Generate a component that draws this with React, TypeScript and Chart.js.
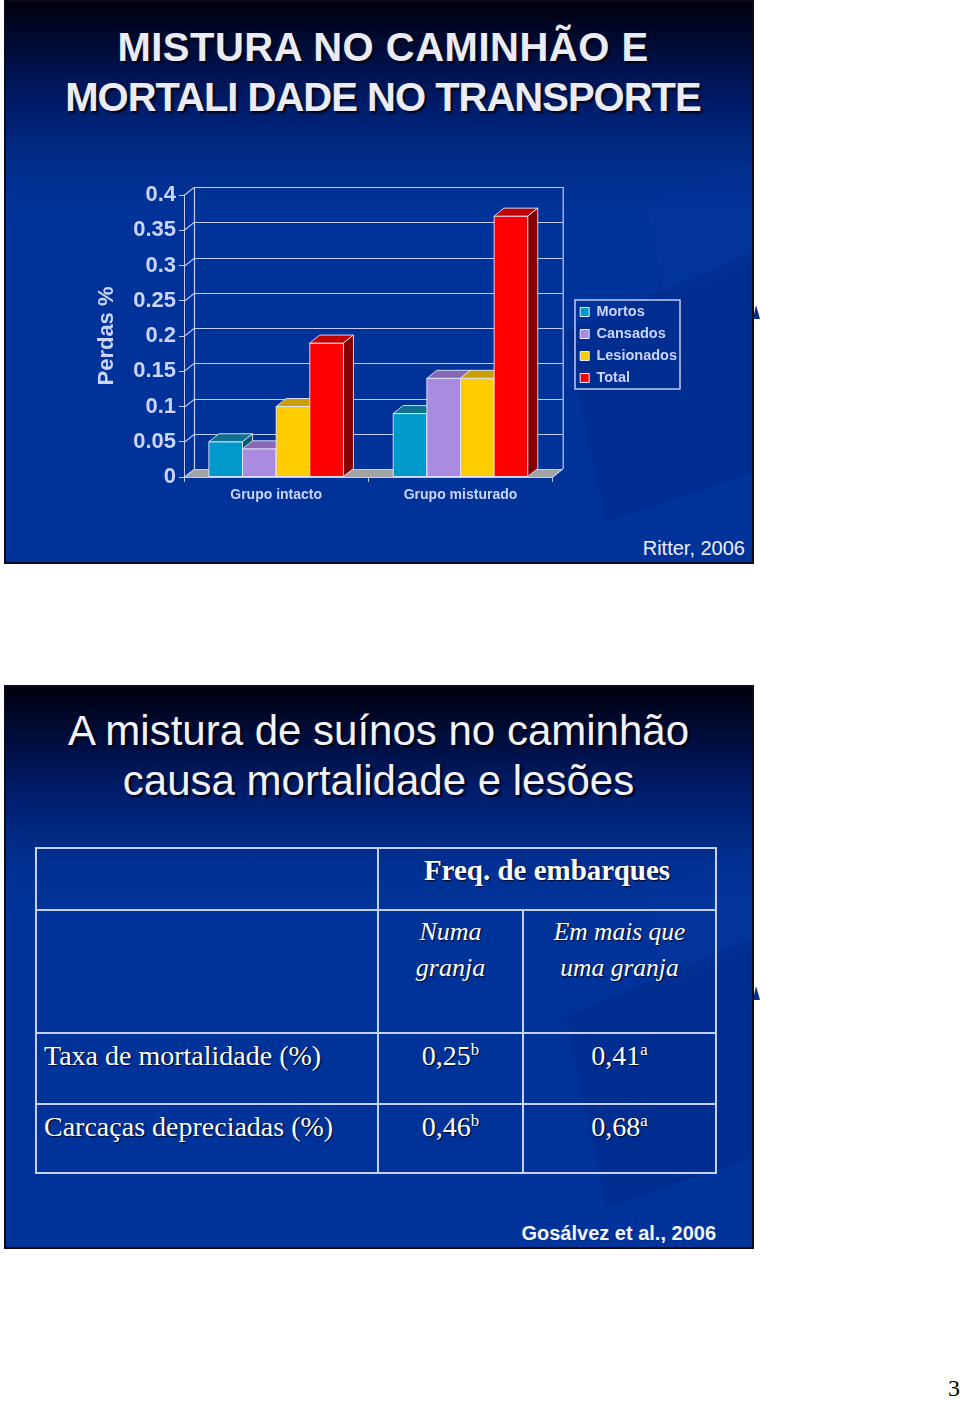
import React, { useEffect, useRef } from 'react';
import { Chart, registerables } from 'chart.js';

Chart.register(...registerables);

// ---------- data ----------
const categories = ['Grupo intacto', 'Grupo misturado'];
const seriesNames = ['Mortos', 'Cansados', 'Lesionados', 'Total'];
const mortos = [0.05, 0.09];
const cansados = [0.04, 0.14];
const lesionados = [0.1, 0.14];
const total = [0.19, 0.37];
const yMin = 0;
const yMax = 0.4;
const yStep = 0.05;

const tableRowLabels = ['Taxa de mortalidade (%)', 'Carcaças depreciadas (%)'];
const numaGranja = ['0,25', '0,46'];
const numaGranjaSig = ['b', 'b'];
const maisGranja = ['0,41', '0,68'];
const maisGranjaSig = ['a', 'a'];

// ---------- styles ----------
const SANS = '"Liberation Sans", Arial, Helvetica, sans-serif';
const SERIF = '"Liberation Serif", "Times New Roman", serif';
const TXT = '#ccd3ff';
const LINE = '#c2cbf4';
const EDGE = 'rgba(228,232,255,0.9)';
const frontColors = ['#0099cc', '#a98be0', '#ffcc00', '#ff0000'];
const topColors = ['#0e6f8f', '#8769b3', '#cc9f00', '#c20000'];
const sideColors = ['#005a78', '#6c5195', '#a17f00', '#870000'];
const DX = 10;
const DY = 8;

const poly = (ctx: CanvasRenderingContext2D, pts: number[][], fill: string) => {
  ctx.beginPath();
  ctx.moveTo(pts[0][0], pts[0][1]);
  for (let k = 1; k < pts.length; k++) ctx.lineTo(pts[k][0], pts[k][1]);
  ctx.closePath();
  ctx.fillStyle = fill;
  ctx.fill();
  ctx.strokeStyle = EDGE;
  ctx.lineWidth = 1;
  ctx.stroke();
};

const threeD = {
  id: 'threeD',
  afterLayout(chart: any) {
    const l = chart.legend;
    if (l) {
      l.left += 20;
      l.right += 20;
      l.top += 9;
      l.bottom += 9;
    }
  },
  beforeDatasetsDraw(chart: any) {
    const { ctx, chartArea: a } = chart;
    const ys = chart.scales.y;
    ctx.save();
    const y0 = ys.getPixelForValue(0);
    const yTop = ys.getPixelForValue(ys.max);
    // floor
    ctx.fillStyle = '#a3a3a3';
    ctx.beginPath();
    ctx.moveTo(a.left, y0);
    ctx.lineTo(a.right, y0);
    ctx.lineTo(a.right + DX, y0 - DY);
    ctx.lineTo(a.left + DX, y0 - DY);
    ctx.closePath();
    ctx.fill();
    // grid on walls
    ctx.strokeStyle = LINE;
    ctx.lineWidth = 1.2;
    ys.ticks.forEach((t: any) => {
      const p = Math.round(ys.getPixelForValue(t.value)) + 0.5;
      ctx.beginPath();
      ctx.moveTo(a.left, p);
      ctx.lineTo(a.left + DX, p - DY);
      ctx.lineTo(a.right + DX, p - DY);
      ctx.stroke();
    });
    ctx.beginPath();
    ctx.moveTo(a.left + DX + 0.5, yTop - DY);
    ctx.lineTo(a.left + DX + 0.5, y0 - DY);
    ctx.moveTo(a.right + DX + 0.5, yTop - DY);
    ctx.lineTo(a.right + DX + 0.5, y0 - DY);
    ctx.moveTo(a.right, y0);
    ctx.lineTo(a.right + DX, y0 - DY);
    ctx.stroke();
    // bars
    const n = chart.data.labels.length;
    for (let i = 0; i < n; i++) {
      chart.data.datasets.forEach((_ds: any, d: number) => {
        if (!chart.isDatasetVisible(d)) return;
        const el = chart.getDatasetMeta(d).data[i];
        const { x, y, base, width } = el.getProps(['x', 'y', 'base', 'width'], true);
        const l = x - width / 2;
        const r = x + width / 2;
        poly(ctx, [[l, y], [r, y], [r, base], [l, base]], frontColors[d]);
        poly(ctx, [[l, y], [r, y], [r + DX, y - DY], [l + DX, y - DY]], topColors[d]);
        poly(ctx, [[r, y], [r + DX, y - DY], [r + DX, base - DY], [r, base]], sideColors[d]);
      });
    }
    ctx.restore();
    return false;
  },
  afterDraw(chart: any) {
    const l = chart.legend;
    if (!l || !l.legendHitBoxes || !l.legendHitBoxes.length) return;
    const hb = l.legendHitBoxes;
    let x1 = Infinity, y1 = Infinity, x2 = -Infinity, y2 = -Infinity;
    hb.forEach((h: any) => {
      x1 = Math.min(x1, h.left);
      y1 = Math.min(y1, h.top);
      x2 = Math.max(x2, h.left + h.width);
      y2 = Math.max(y2, h.top + h.height);
    });
    const ctx = chart.ctx;
    ctx.save();
    ctx.strokeStyle = LINE;
    ctx.lineWidth = 1.5;
    ctx.strokeRect(Math.round(x1 - 5), Math.round(y1 - 5), Math.round(x2 - x1 + 8), Math.round(y2 - y1 + 8));
    ctx.restore();
  },
};

function BarChart() {
  const ref = useRef<HTMLCanvasElement>(null);
  useEffect(() => {
    const series = [mortos, cansados, lesionados, total];
    const chart = new Chart(ref.current as HTMLCanvasElement, {
      type: 'bar',
      data: {
        labels: categories,
        datasets: series.map((s, d) => ({
          label: seriesNames[d],
          data: s,
          backgroundColor: frontColors[d],
          borderColor: '#e6e9ff',
          borderWidth: 1,
          categoryPercentage: 0.73,
          barPercentage: 1.0,
        })),
      },
      options: {
        responsive: false,
        animation: false,
        events: [],
        layout: { padding: { top: 25, right: 33, left: 0, bottom: 0 } },
        plugins: {
          tooltip: { enabled: false },
          legend: {
            position: 'right',
            fullSize: false,
            labels: {
              color: TXT,
              font: { family: SANS, size: 14.5, weight: 'bold' },
              boxWidth: 9,
              boxHeight: 9,
              padding: 7.5,
            },
          },
        },
        scales: {
          x: {
            grid: { display: true, drawOnChartArea: false, drawTicks: true, tickLength: 5, color: LINE, offset: true },
            border: { display: true, color: LINE, width: 1 },
            ticks: { color: TXT, font: { family: SANS, size: 14, weight: 'bold' }, padding: 5 },
            afterFit: (s: any) => { s.height = 38; },
          },
          y: {
            min: yMin,
            max: yMax,
            grid: { display: true, drawOnChartArea: false, drawTicks: true, tickLength: 5, color: LINE },
            border: { display: true, color: LINE, width: 1 },
            ticks: {
              stepSize: yStep,
              color: TXT,
              font: { family: SANS, size: 22, weight: 'bold' },
              padding: 3,
              callback: (v: any) => String(Math.round(Number(v) * 100) / 100),
            },
            title: {
              display: true,
              text: 'Perdas %',
              color: TXT,
              font: { family: SANS, size: 22, weight: 'bold' },
              padding: { top: 14, bottom: 0 },
            },
            afterFit: (s: any) => { s.width = 104; },
          },
        },
      },
      plugins: [threeD],
    } as any);
    return () => chart.destroy();
  }, []);
  return (
    <canvas
      ref={ref}
      width={620}
      height={345}
      style={{ position: 'absolute', left: 80, top: 170, width: 620, height: 345 }}
    />
  );
}

const slideBg =
  'linear-gradient(180deg, #00000c 0%, #000828 5%, #00124c 12%, #001d6c 19%, #00287f 25%, #002f90 31%, #003399 38%, #003399 100%)';

const slideStyle = (top: number): React.CSSProperties => ({
  position: 'absolute',
  left: 4,
  top,
  width: 750,
  height: 564,
  boxSizing: 'border-box',
  border: '2px solid #0a0a1c',
  background: slideBg,
  overflow: 'hidden',
});

const abs = (s: React.CSSProperties): React.CSSProperties => ({ position: 'absolute', margin: 0, ...s });

const titleShadow = '2px 2px 2px rgba(0,0,16,0.95)';
const cellShadow = '1px 1px 1px rgba(0,0,30,0.9)';
const tableLine = '#c6d0f2';

function Deco() {
  return (
    <svg width={750} height={564} style={{ position: 'absolute', left: 0, top: 0 }}>
      <polygon points="560,330 748,250 748,470 600,520" fill="rgba(0,10,70,0.10)" />
      <polygon points="640,200 748,160 748,260 660,300" fill="rgba(40,80,200,0.04)" />
    </svg>
  );
}

export default function App() {
  const tRowTops = [1033, 1104];
  return (
    <div style={abs({ left: 0, top: 0, width: 960, height: 1401, background: '#ffffff', overflow: 'hidden' })}>
      {/* ---------- slide 1 ---------- */}
      <div style={slideStyle(0)}>
        <Deco />
      </div>
      <svg width={10} height={20} style={{ position: 'absolute', left: 752, top: 302 }}>
        <polygon points="1,17 4,3 8,17" fill="#0b2a8a" />
      </svg>
      <div
        style={abs({
          left: 8, top: 22, width: 750, textAlign: 'center', font: `bold 40px ${SANS}`,
          lineHeight: '50px', color: '#ebebf6', textShadow: titleShadow, letterSpacing: '0.5px', whiteSpace: 'nowrap',
        })}
      >
        MISTURA NO CAMINHÃO E
      </div>
      <div
        style={abs({
          left: 8, top: 72, width: 750, textAlign: 'center', font: `bold 40px ${SANS}`,
          lineHeight: '50px', color: '#ebebf6', textShadow: titleShadow, letterSpacing: '-1px', whiteSpace: 'nowrap',
        })}
      >
        MORTALI DADE NO TRANSPORTE
      </div>
      <BarChart />
      <div
        style={abs({
          left: 0, top: 536, width: 745, textAlign: 'right', font: `20px ${SANS}`, lineHeight: '24px', color: '#eceeff',
        })}
      >
        Ritter, 2006
      </div>

      {/* ---------- slide 2 ---------- */}
      <div style={slideStyle(685)}>
        <Deco />
      </div>
      <svg width={10} height={20} style={{ position: 'absolute', left: 752, top: 983 }}>
        <polygon points="1,17 4,3 8,17" fill="#0b2a8a" />
      </svg>
      <div
        style={abs({
          left: 4, top: 706, width: 749, textAlign: 'center', font: `42px ${SANS}`, lineHeight: '50px',
          color: '#f2f2fa', textShadow: titleShadow, whiteSpace: 'nowrap',
        })}
      >
        A mistura de suínos no caminhão
      </div>
      <div
        style={abs({
          left: 4, top: 756, width: 749, textAlign: 'center', font: `42px ${SANS}`, lineHeight: '50px',
          color: '#f2f2fa', textShadow: titleShadow, whiteSpace: 'nowrap',
        })}
      >
        causa mortalidade e lesões
      </div>

      {/* table lines */}
      <div style={abs({ left: 35, top: 847, width: 682, height: 327, boxSizing: 'border-box', border: `2px solid ${tableLine}` })} />
      <div style={abs({ left: 35, top: 909, width: 682, height: 2, background: tableLine })} />
      <div style={abs({ left: 35, top: 1032, width: 682, height: 2, background: tableLine })} />
      <div style={abs({ left: 35, top: 1103, width: 682, height: 2, background: tableLine })} />
      <div style={abs({ left: 377, top: 847, width: 2, height: 327, background: tableLine })} />
      <div style={abs({ left: 522, top: 909, width: 2, height: 265, background: tableLine })} />

      {/* table text */}
      <div
        style={abs({
          left: 378, top: 853, width: 338, textAlign: 'center', font: `bold 29px ${SERIF}`, lineHeight: '34px',
          color: '#ffffff', textShadow: cellShadow, whiteSpace: 'nowrap',
        })}
      >
        Freq. de embarques
      </div>
      <div
        style={abs({
          left: 378, top: 914, width: 145, textAlign: 'center', font: `italic 26px ${SERIF}`, lineHeight: '36px',
          color: '#ffffff', textShadow: cellShadow,
        })}
      >
        Numa
        <br />
        granja
      </div>
      <div
        style={abs({
          left: 523, top: 914, width: 193, textAlign: 'center', font: `italic 25.5px ${SERIF}`, lineHeight: '36px',
          color: '#ffffff', textShadow: cellShadow, whiteSpace: 'nowrap',
        })}
      >
        Em mais que
        <br />
        uma granja
      </div>
      {tableRowLabels.map((lab, r) => (
        <React.Fragment key={lab}>
          <div
            style={abs({
              left: 44, top: tRowTops[r] + 6, font: `28px ${SERIF}`, lineHeight: '34px', color: '#ffffff',
              textShadow: cellShadow, whiteSpace: 'nowrap',
            })}
          >
            {lab}
          </div>
          <div
            style={abs({
              left: 378, top: tRowTops[r] + 6, width: 145, textAlign: 'center', font: `28px ${SERIF}`,
              lineHeight: '34px', color: '#ffffff', textShadow: cellShadow, whiteSpace: 'nowrap',
            })}
          >
            {numaGranja[r]}
            <span style={{ fontSize: '0.6em', verticalAlign: '0.6em', lineHeight: 0 }}>{numaGranjaSig[r]}</span>
          </div>
          <div
            style={abs({
              left: 523, top: tRowTops[r] + 6, width: 193, textAlign: 'center', font: `28px ${SERIF}`,
              lineHeight: '34px', color: '#ffffff', textShadow: cellShadow, whiteSpace: 'nowrap',
            })}
          >
            {maisGranja[r]}
            <span style={{ fontSize: '0.6em', verticalAlign: '0.6em', lineHeight: 0 }}>{maisGranjaSig[r]}</span>
          </div>
        </React.Fragment>
      ))}

      <div
        style={abs({
          left: 0, top: 1221, width: 716, textAlign: 'right', font: `bold 20px ${SANS}`, lineHeight: '24px',
          color: '#f4f4ff', whiteSpace: 'nowrap',
        })}
      >
        Gosálvez et al., 2006
      </div>

      <div style={abs({ left: 948, top: 1373, font: `24px ${SERIF}`, lineHeight: '30px', color: '#000' })}>3</div>
    </div>
  );
}
